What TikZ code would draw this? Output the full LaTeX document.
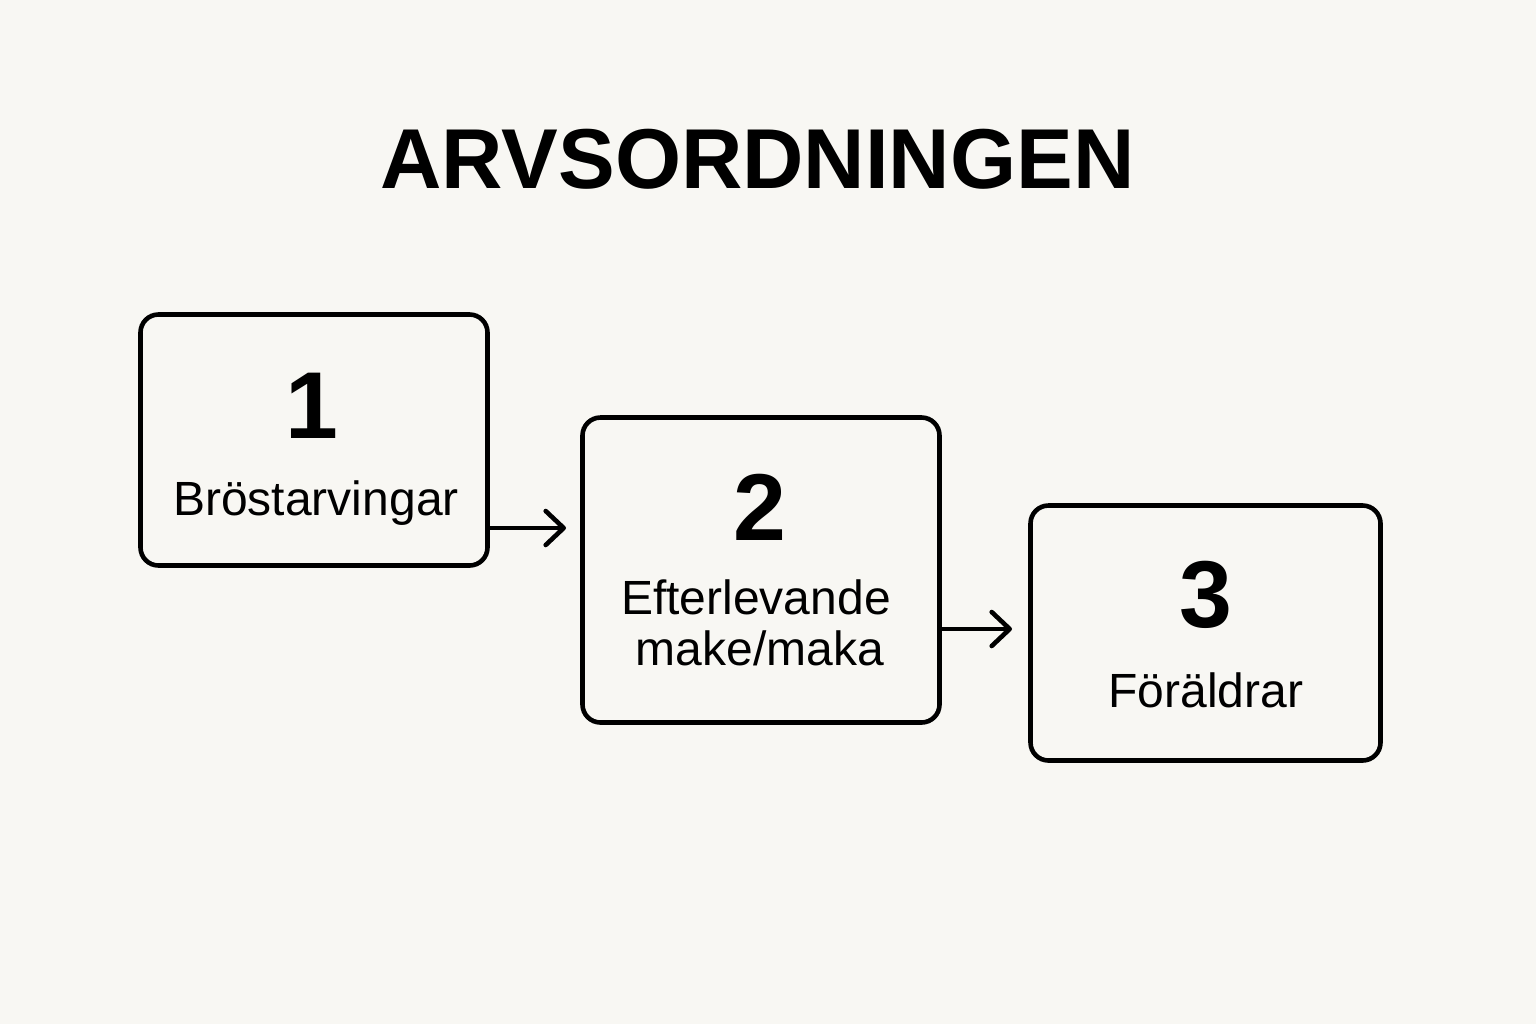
\documentclass[tikz,border=0pt]{standalone}
\usepackage{fontspec}
\setmainfont{Liberation Sans}
\usetikzlibrary{arrows.meta}
\definecolor{bg}{HTML}{F8F7F3}
\tikzset{
  box/.style={draw=black, line width=2.3pt, rounded corners=9pt, inner sep=0pt, fill=none},
  numtxt/.style={anchor=base, inner sep=0pt, font=\fontsize{47.5}{50}\selectfont\bfseries},
  lbltxt/.style={anchor=base, inner sep=0pt, font=\fontsize{24}{26}\selectfont},
  titletxt/.style={anchor=base, inner sep=0pt, font=\fontsize{42.5}{45}\selectfont\bfseries},
  arr/.style={line width=2.3pt, line cap=round,
    -{Straight Barb[length=9pt, width=17pt, line cap=round, line join=round]}}
}
\begin{document}
\begin{tikzpicture}[x=0.5pt,y=-0.5pt]
\fill[bg] (0,0) rectangle (1536,1024);
\useasboundingbox (0,0) rectangle (1536,1024);

\node[titletxt] (title) at (757.5,188) {ARVSORDNINGEN};

\node[box, minimum width=173.5pt, minimum height=125.5pt] (b1) at (314,440) {};
\node[box, minimum width=178.5pt, minimum height=152.5pt] (b2) at (761,570) {};
\node[box, minimum width=175pt, minimum height=127.5pt] (b3) at (1205.5,633) {};

\node[numtxt] (n1) at (312,438) {1};
\node[lbltxt] (l1) at (316,515) {Bröstarvingar};

\node[numtxt] (n2) at (760,540) {2};
\node[lbltxt] (l2a) at (756,614) {Efterlevande};
\node[lbltxt] (l2b) at (760,665) {make/maka};

\node[numtxt] (n3) at (1206,627) {3};
\node[lbltxt] (l3) at (1206,707) {Föräldrar};

\coordinate (t1) at (566,528);
\coordinate (t2) at (1012,629);
\draw[arr] (b1.east |- t1) -- (t1);
\draw[arr] (b2.east |- t2) -- (t2);
\end{tikzpicture}
\end{document}
